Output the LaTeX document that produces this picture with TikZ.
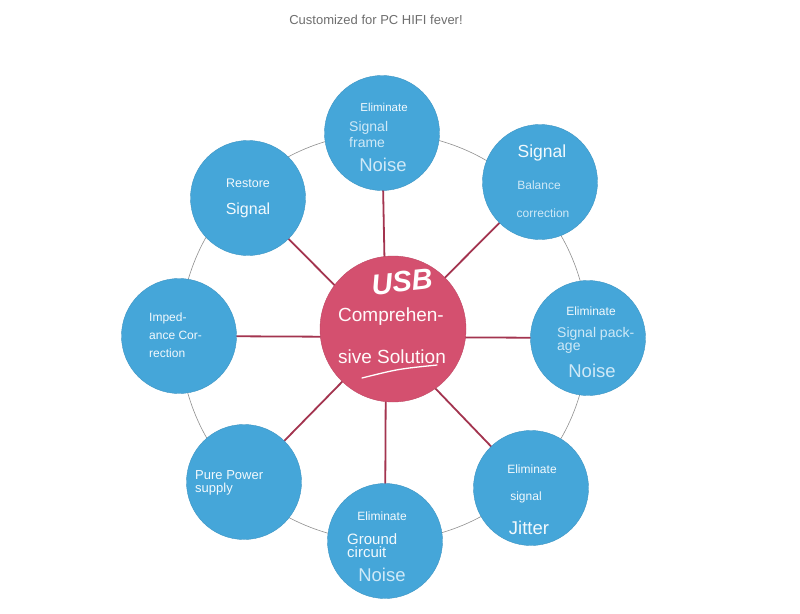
\documentclass[tikz,border=0pt]{standalone}
\usepackage{fontspec}
\setmainfont{Liberation Sans}
\usetikzlibrary{backgrounds}
\definecolor{bubblue}{HTML}{45A6D9}
\definecolor{hubpink}{HTML}{D4506F}
\definecolor{spokered}{HTML}{A3344F}
\definecolor{ringgray}{HTML}{8F8F8F}
\definecolor{txtw}{HTML}{F2F9FD}
\definecolor{txtl}{HTML}{CFE9F7}
\definecolor{titlegray}{HTML}{6E6E6E}
\newcommand{\fs}[1]{\fontsize{#1}{#1}\selectfont}
\tikzset{
  bub/.style={circle, fill=bubblue, draw=bubblue!90!black, line width=0.4pt, minimum size=115pt, inner sep=0pt},
  hubc/.style={circle, fill=hubpink, draw=hubpink!90!black, line width=0.4pt, minimum size=146pt, inner sep=0pt},
  spoke/.style={draw=spokered, line width=1.8pt},
  ring/.style={draw=ringgray, line width=0.6pt},
  wt/.style={text=txtw, inner sep=0pt},
  lt/.style={text=txtl, inner sep=0pt},
  ml/.style={text=txtw, inner sep=0pt, align=left, anchor=north west},
}
\begin{document}
\begin{tikzpicture}[x=1pt,y=-1pt]
\useasboundingbox (0,0) rectangle (800,613);
\node[text=titlegray, inner sep=0pt] (title) at (376,20) {\fs{13}Customized for PC HIFI fever!};
\coordinate (hub) at (386,337);
% circles
\node[bub] (top) at (382,133) {};
\node[bub] (tr) at (540,182) {};
\node[bub] (rt) at (588,338) {};
\node[bub] (br) at (531,488) {};
\node[bub] (bot) at (385,541) {};
\node[bub] (bl) at (244,482) {};
\node[bub] (lf) at (179,336) {};
\node[bub] (tl) at (248,198) {};
\node[hubc] (c) at (393,329) {};
\begin{scope}[on background layer]
  \fill[white] (0,0) rectangle (800,613);
  \node[ring, circle, minimum size=408pt, inner sep=0pt] (rg) at (384,337) {};
  \foreach \n in {top,tr,rt,br,bot,bl,lf,tl} \draw[spoke] (hub) -- (\n.center);
\end{scope}
% center text
\node[text=white, inner sep=0pt, rotate=6] (usb) at (402,282) {\fs{29}\bfseries\itshape USB};
\node[text=white!92!pink, inner sep=0pt] (c1) at (391,317) {\fs{19}Comprehen-};
\node[text=white!92!pink, inner sep=0pt] (c2) at (392,357) {\fs{19}sive Solution};
\coordinate (sw1) at (362,378);
\coordinate (sw2) at (437,365);
\draw[white, line width=1.3pt, line cap=round] (sw1) .. controls (398,369) .. (sw2);
% top
\node[wt] (t1) at (384,107) {\fs{11.5}Eliminate};
\node[ml, text=txtl, font=\fontsize{14}{16}\selectfont] (t2) at (349,121) {Signal\\frame};
\node[lt] (t3) at (383,165) {\fs{18.5}Noise};
% top right
\node[wt] (r1) at (542,153) {\fs{17.5}Signal};
\node[lt] (r2) at (539,185) {\fs{12}Balance};
\node[lt] (r3) at (543,213) {\fs{12}correction};
% right
\node[wt] (g1) at (591,311) {\fs{12}Eliminate};
\node[ml, text=txtl, font=\fontsize{14}{13}\selectfont] (g2) at (557,327) {Signal pack-\\age};
\node[lt] (g3) at (592,371) {\fs{18.5}Noise};
% bottom right
\node[wt] (j1) at (532,469) {\fs{12}Eliminate};
\node[wt] (j2) at (526,497) {\fs{12}signal};
\node[wt] (j3) at (529,528) {\fs{18.5}Jitter};
% bottom
\node[wt] (b1) at (382,516) {\fs{12}Eliminate};
\node[ml, font=\fontsize{15}{13}\selectfont] (b2) at (347,533) {Ground\\circuit};
\node[lt] (b3) at (382,575) {\fs{18.5}Noise};
% bottom left
\node[ml, font=\fontsize{13}{13}\selectfont] (p1) at (195,470) {Pure Power\\supply};
% left
\node[ml, font=\fontsize{12}{18}\selectfont] (i1) at (149,313) {Imped-\\ance Cor-\\rection};
% top left
\node[wt] (s1) at (248,183) {\fs{12.5}Restore};
\node[wt] (s2) at (248,210) {\fs{16}Signal};
\end{tikzpicture}
\end{document}
